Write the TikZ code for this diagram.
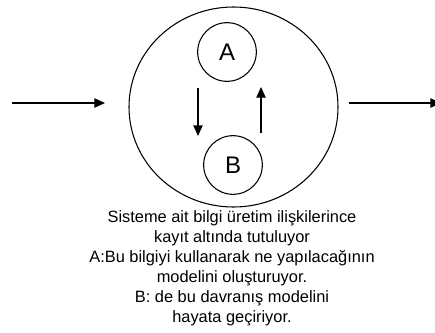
\documentclass[tikz,border=0pt]{standalone}
\usepackage{fontspec}
\setmainfont{Liberation Sans}
\usetikzlibrary{arrows.meta,positioning,shapes.geometric}

\begin{document}
\begin{tikzpicture}[x=0.75pt,y=-0.75pt,
		flow/.style={-{Triangle[length=8pt,width=7pt]},line width=1pt},
		part/.style={circle,draw,line width=0.8pt,minimum size=44pt,inner sep=0pt,font=\fontsize{18}{18}\selectfont}]
	
	\useasboundingbox (0,0) rectangle (435,332);
	
	% system and its two parts
	\node[ellipse,draw,line width=0.8pt,minimum width=156.75pt,minimum height=150pt] (sys) at (233.5,107) {};
	\node[part] (A) at (227,52) {A};
	\node[part] (B) at (233,165) {B};
	
	% input and output
	\coordinate (inS) at (12,103);
	\coordinate (inE) at (105,103);
	\coordinate (outS) at (349,103);
	\coordinate (outE) at (441,103);
	\draw[flow] (inS) -- (inE);
	\draw[flow] (outS) -- (outE);
	
	% A -> B and B -> A
	\coordinate (downS) at (198,88);
	\coordinate (downE) at (198,136);
	\coordinate (upS) at (261,133);
	\coordinate (upE) at (261,87);
	\draw[flow] (downS) -- (downE);
	\draw[flow] (upS) -- (upE);
	
	\node[align=center,font=\fontsize{12.3}{15}\selectfont] (note) at (232,268)
	{Sisteme ait bilgi üretim ilişkilerince\\ kayıt altında tutuluyor\\ A:Bu bilgiyi kullanarak ne yapılacağının\\ modelini oluşturuyor.\\ B: de bu davranış modelini\\ hayata geçiriyor.};
	
\end{tikzpicture}
\end{document}
